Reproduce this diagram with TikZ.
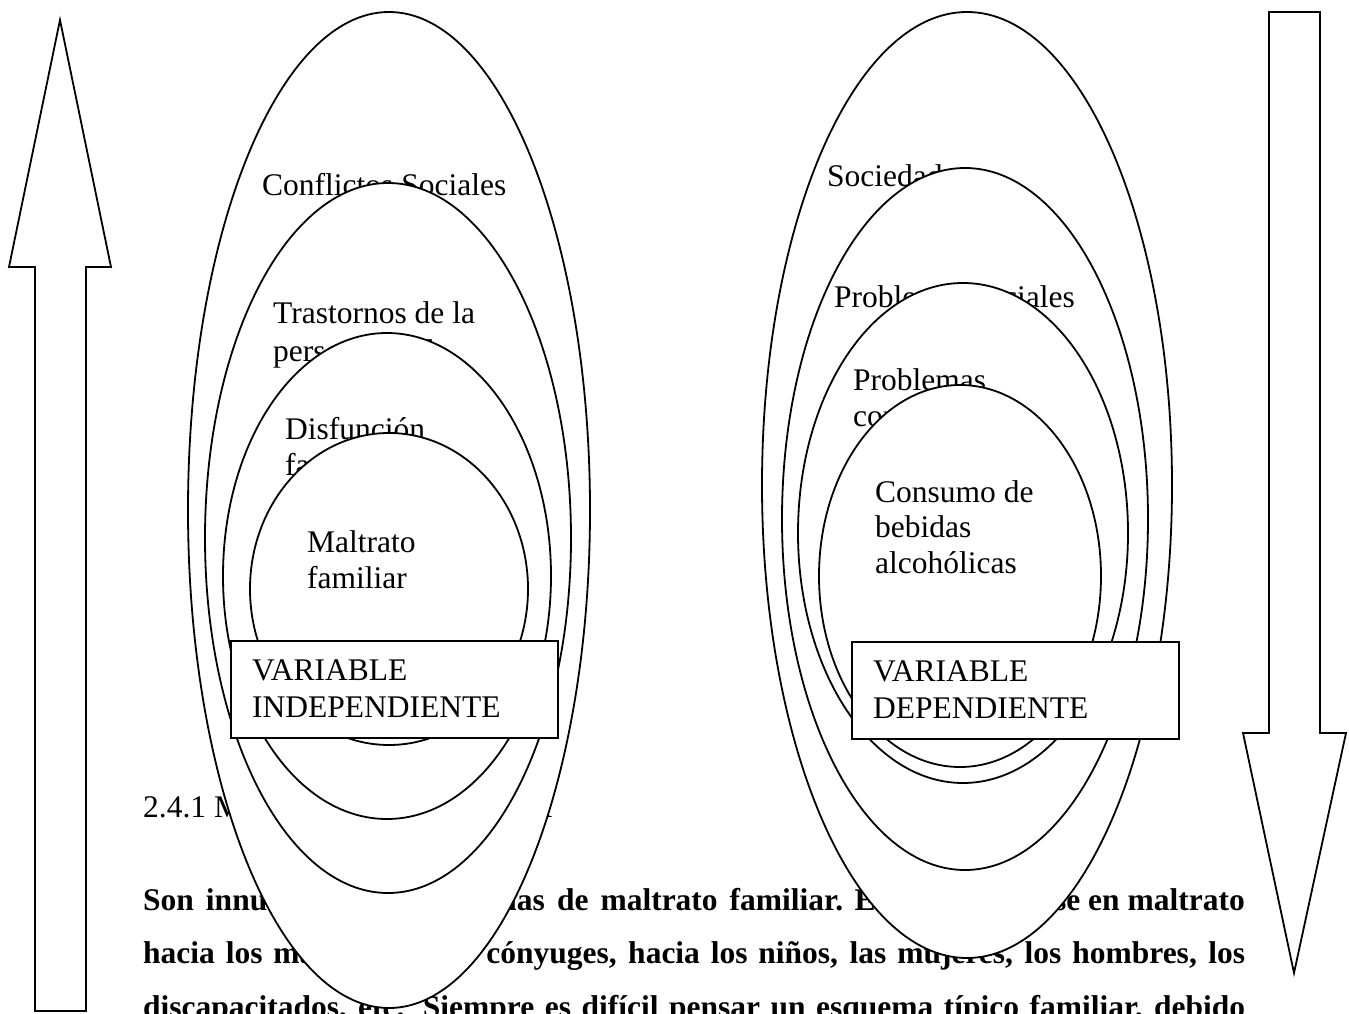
\documentclass[tikz,border=0pt]{standalone}
\usepackage{fontspec}
\setmainfont{Liberation Serif}
\usetikzlibrary{shapes.geometric}
\tikzset{
  ell/.style={draw, fill=white, line width=1.8pt, ellipse, inner sep=0pt},
  lbl/.style={anchor=base west, inner sep=0pt, font=\fontsize{31.5}{36}\selectfont},
  bodyline/.style={anchor=base west, inner sep=0pt, font=\fontsize{31.5}{36}\selectfont\bfseries},
  varbox/.style={draw, fill=white, line width=1.8pt, minimum width=327pt, minimum height=97pt, anchor=north west, inner sep=0pt},
  bigarrow/.style={draw, fill=white, line width=1.8pt, line join=miter}
}
\begin{document}
\begin{tikzpicture}[x=1pt,y=-1pt]
\useasboundingbox (0,0) rectangle (1349,1014);
% body text (underneath)
\node[lbl] (head) at (143,817) {2.4.1 MALTRATO\hskip 20pt FAMILIAR};
\node[bodyline] (l1a) at (143,910) {\makebox[700pt][s]{Son innumerables las formas de maltrato familiar.}};
\node[bodyline, anchor=base east] (l1b) at (1245,910) {Esto puede verse en maltrato};
\node[bodyline] (l2) at (143,963) {\makebox[1102pt][s]{hacia los mayores, entre cónyuges, hacia los niños, las mujeres, los hombres, los}};
\node[bodyline] (l3) at (143,1017) {\makebox[1102pt][s]{discapacitados, etc. Siempre es difícil pensar un esquema típico familiar, debido}};
% arrows
\draw[bigarrow] (60,20) -- (111,267) -- (86,267) -- (86,1011) -- (35,1011) -- (35,267) -- (9,267) -- cycle;
\draw[bigarrow] (1269,12) -- (1320,12) -- (1320,733) -- (1346,733) -- (1294,973) -- (1243,733) -- (1269,733) -- cycle;
% left group
\node[ell, minimum width=402pt, minimum height=996pt] (e1) at (389,510) {};
\node[lbl] (t1) at (262,195) {Conflictos Sociales};
\node[ell, minimum width=366pt, minimum height=710pt] (e2) at (388,538) {};
\node[lbl] (t2a) at (273,323) {Trastornos de la};
\node[lbl] (t2b) at (273,361) {personalidad};
\node[ell, minimum width=328pt, minimum height=486pt] (e3) at (387,576) {};
\node[lbl] (t3a) at (285,439) {Disfunción};
\node[lbl] (t3b) at (285,475) {familiar};
\node[ell, minimum width=278pt, minimum height=312pt] (e4) at (389,589) {};
\node[lbl] (t4a) at (307,552) {Maltrato};
\node[lbl] (t4b) at (307,588) {familiar};
\node[varbox] (b1) at (230,640) {};
\node[lbl] (bt1a) at (252,680) {VARIABLE};
\node[lbl] (bt1b) at (252,717) {INDEPENDIENTE};
% right group
\node[ell, minimum width=410pt, minimum height=946pt] (r1) at (967,485) {};
\node[lbl] (s1) at (827,186) {Sociedad};
\node[ell, minimum width=366pt, minimum height=702pt] (r2) at (965,519) {};
\node[lbl] (s2) at (834,307) {Problemas sociales};
\node[ell, minimum width=330pt, minimum height=500pt] (r3) at (963,533) {};
\node[lbl] (s3a) at (853,390) {Problemas};
\node[lbl] (s3b) at (853,426) {conyugales};
\node[ell, minimum width=282pt, minimum height=382pt] (r4) at (960,576) {};
\node[lbl] (s4a) at (875,502) {Consumo de};
\node[lbl] (s4b) at (875,537) {bebidas};
\node[lbl] (s4c) at (875,573) {alcohólicas};
\node[varbox] (b2) at (851,641) {};
\node[lbl] (bt2a) at (873,681) {VARIABLE};
\node[lbl] (bt2b) at (873,718) {DEPENDIENTE};
\end{tikzpicture}
\end{document}
